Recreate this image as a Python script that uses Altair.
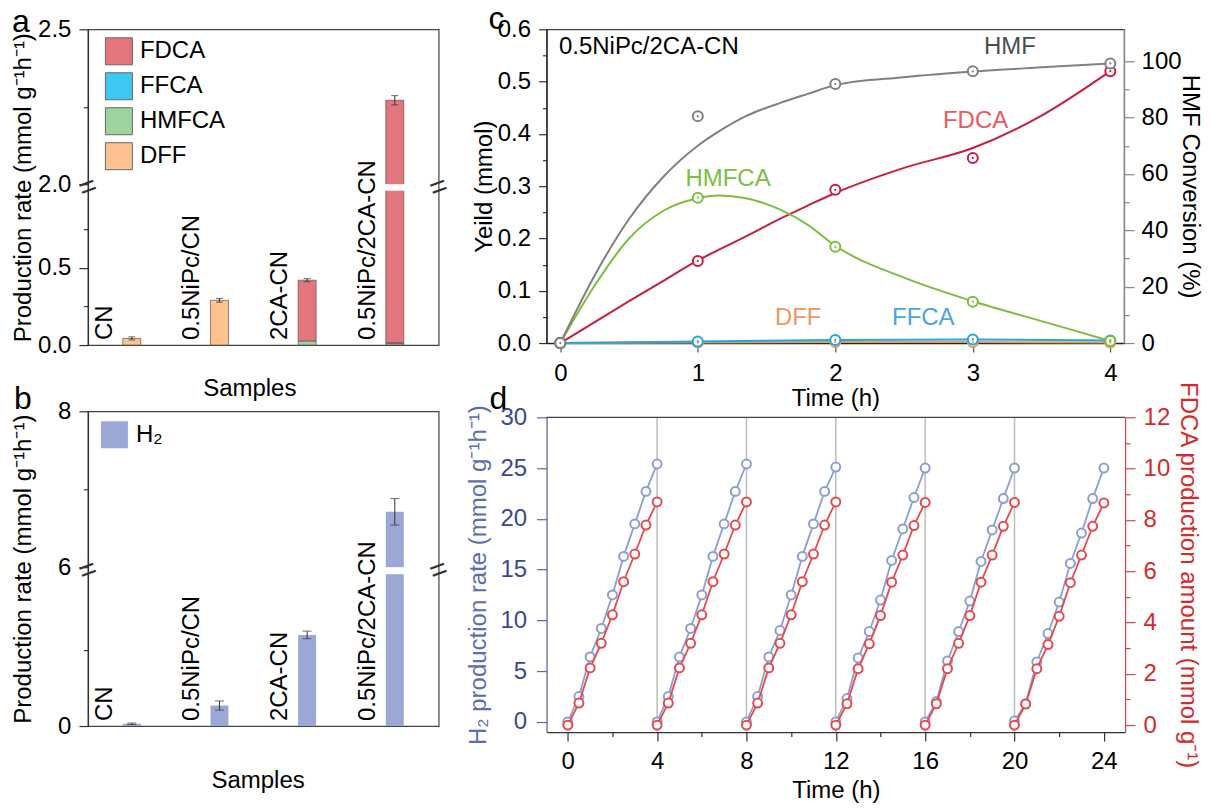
import altair as alt
import pandas as pd

FONT = "Liberation Sans, Arial, Helvetica, sans-serif"

# ---------------- panel a : liquid products ----------------
samples = ["CN", "0.5NiPc/CN", "2CA-CN", "0.5NiPc/2CA-CN"]
products = ["FDCA", "FFCA", "HMFCA", "DFF"]
product_colors = ["#e3767c", "#3dc8f4", "#9dd39d", "#fdc28f"]
fdca_rate = [0.0, 0.0, 0.395, 2.257]
ffca_rate = [0.0, 0.0, 0.0, 0.006]
hmfca_rate = [0.0, 0.0, 0.025, 0.008]
dff_rate = [0.043, 0.290, 0.0, 0.0]
rate_err = [0.010, 0.012, 0.010, 0.015]

# ---------------- panel b : H2 ----------------
h2_rate = [0.06, 0.54, 2.40, 6.71]
h2_err = [0.02, 0.12, 0.10, 0.17]

# ---------------- panel c : time course ----------------
t_points = [0, 1, 2, 3, 4]
dff_yield = [0.0, 0.001, 0.002, 0.002, 0.001]
ffca_yield = [0.0, 0.003, 0.006, 0.007, 0.005]
hmfca_yield = [0.0, 0.278, 0.184, 0.079, 0.004]
fdca_yield = [0.0, 0.157, 0.293, 0.354, 0.520]
hmf_conversion = [0.0, 80.5, 91.9, 96.4, 99.2]
curve_t = [0, 0.25, 0.5, 0.75, 1.0, 1.15, 1.35, 1.6, 1.8, 2.0, 2.5, 3.0, 3.5, 4.0]
fdca_curve = [0, 0.040, 0.080, 0.119, 0.158, 0.178, 0.204, 0.238, 0.263, 0.287, 0.335, 0.373, 0.435, 0.520]
hmfca_curve = [0, 0.110, 0.200, 0.253, 0.277, 0.282, 0.277, 0.255, 0.226, 0.186, 0.125, 0.080, 0.042, 0.004]
hmf_curve = [0, 24.0, 44.0, 59.0, 70.0, 75.0, 80.5, 85.2, 88.4, 91.5, 94.3, 96.3, 97.8, 99.2]
c_series = ["FDCA", "HMFCA", "FFCA", "DFF", "HMF"]
c_colors = ["#c81f40", "#7cbf3d", "#1fa8dd", "#f0955a", "#808080"]
c_labels = ["HMF", "FDCA", "HMFCA", "DFF", "FFCA"]
c_label_t = [3.27, 3.02, 1.22, 1.73, 2.64]
c_label_v = [0.566, 0.425, 0.314, 0.047, 0.047]
c_label_colors = ["#4d4d4d", "#e65c5f", "#7cbf3d", "#f29663", "#4aa6e0"]

# ---------------- panel d : cycling ----------------
cycle_starts = [0, 4, 8, 12, 16, 20]
cycle_t = [0, 0.5, 1.0, 1.5, 2.0, 2.5, 3.0, 3.5, 4.0]
h2_cycles = [
    [0.0, 2.5, 6.4, 9.2, 12.5, 16.3, 19.5, 22.7, 25.4],
    [0.0, 2.5, 6.4, 9.2, 12.5, 16.3, 19.5, 22.7, 25.4],
    [0.0, 2.5, 6.4, 9.0, 12.5, 16.3, 19.5, 22.7, 25.1],
    [0.0, 2.3, 6.3, 8.9, 12.0, 15.9, 19.0, 22.1, 25.0],
    [0.0, 2.0, 6.0, 8.9, 11.9, 15.8, 18.9, 22.0, 25.0],
    [0.1, 1.8, 5.9, 8.7, 11.8, 15.6, 18.6, 22.0, 25.0],
]
fdca_cycles = [
    [0.0, 0.86, 2.23, 3.19, 4.30, 5.59, 6.67, 7.80, 8.70],
    [0.0, 0.86, 2.23, 3.19, 4.30, 5.59, 6.67, 7.80, 8.70],
    [0.0, 0.86, 2.23, 3.19, 4.30, 5.59, 6.67, 7.80, 8.70],
    [0.0, 0.83, 2.20, 3.17, 4.27, 5.57, 6.63, 7.78, 8.68],
    [0.0, 0.83, 2.20, 3.19, 4.27, 5.57, 6.63, 7.75, 8.68],
    [0.0, 0.82, 2.20, 3.14, 4.24, 5.55, 6.63, 7.75, 8.66],
]
separators = [4, 8, 12, 16, 20]

H2_BLUE = "#8c9fd2"
FD_RED = "#e64a4e"


def minor_axis(values, minor_test, major=9, minor=4.5, **kw):
    return alt.Axis(
        values=values,
        labelExpr=f"({minor_test}) ? '' : datum.label",
        tickSize={"condition": {"test": minor_test, "value": minor}, "value": major},
        labelOverlap=False, labelFlush=False, labelBound=False, grid=False,
        **kw,
    )


def letter(txt, x, y):
    return alt.Chart(pd.DataFrame({"t": [txt]})).mark_text(
        align="left", baseline="alphabetic", fontSize=32, font=FONT, color="black"
    ).encode(x=alt.value(x), y=alt.value(y), text="t:N")


def break_marks(yfield, yenc, w, yval):
    df = pd.DataFrame({yfield: [yval]})
    out = []
    for xv in (0, w):
        out.append(alt.Chart(df).mark_text(text="=", angle=340, fontSize=30, align="center",
                                          baseline="middle", color="#333")
                   .encode(x=alt.value(xv), y=yenc))
    return out


# ======================= panel a =======================
WA, HA = 351, 316
rows = []
order_map = {"DFF": 0, "HMFCA": 1, "FFCA": 2, "FDCA": 3}
for i, s in enumerate(samples):
    for p, arr in zip(products, [fdca_rate, ffca_rate, hmfca_rate, dff_rate]):
        if arr[i] > 0:
            rows.append({"sample": s, "product": p, "v": arr[i], "ord": order_map[p]})
df_a = pd.DataFrame(rows)
tot_a = [fdca_rate[i] + ffca_rate[i] + hmfca_rate[i] + dff_rate[i] for i in range(4)]
df_err_a = pd.DataFrame({"sample": samples, "lo": [t - e for t, e in zip(tot_a, rate_err)],
                         "hi": [t + e for t, e in zip(tot_a, rate_err)]})
df_caps_a = pd.DataFrame({"sample": samples * 2, "v": list(df_err_a["lo"]) + list(df_err_a["hi"])})

minor_a = "datum.value==0.25||datum.value==0.75||datum.value==2.25"
axis_ya = minor_axis([0, 0.25, 0.5, 0.75, 2.0, 2.25, 2.5], minor_a, format=".1f", labelPadding=8,
                     title="Production rate (mmol g\u207b\u00b9h\u207b\u00b9)", titleX=-64,
                     titleBaseline="middle", domainColor="#333", tickColor="#333")
scale_ya = alt.Scale(domain=[0, 1, 2, 2.5], range=[HA, 161.5, 155, 0], nice=False, zero=False)
xa = alt.X("sample:N", sort=samples,
           scale=alt.Scale(domain=samples, paddingInner=0, paddingOuter=0),
           axis=alt.Axis(labels=False, ticks=False, domain=False, title="Samples",
                         titlePadding=31, titleX=161.5))


def ya(field):
    return alt.Y(field, scale=scale_ya, axis=axis_ya)


bars_a = alt.Chart(df_a).mark_bar(size=18, stroke="#6a5050", strokeWidth=0.7).encode(
    x=xa, y=alt.Y("v:Q", stack="zero", scale=scale_ya, axis=axis_ya),
    color=alt.Color("product:N", scale=alt.Scale(domain=products, range=product_colors),
                    legend=alt.Legend(orient="none", legendX=17, legendY=8, title=None,
                                      symbolType="square", symbolSize=729,
                                      symbolStrokeColor="#666", symbolStrokeWidth=1,
                                      labelFontSize=24, labelFont=FONT, labelColor="black",
                                      rowPadding=3, labelOffset=7, padding=0)),
    order=alt.Order("ord:Q"),
)
err_a = alt.Chart(df_err_a).mark_rule(color="#333", strokeWidth=1).encode(x=xa, y=ya("lo:Q"), y2="hi:Q")
caps_a = alt.Chart(df_caps_a).mark_tick(color="#333", size=7, thickness=1).encode(x=xa, y=ya("v:Q"))
gap_a = alt.Chart(pd.DataFrame({"sample": [samples[3]], "lo": [1.0], "hi": [2.0]})).mark_bar(
    size=22, color="white").encode(x=xa, y=ya("lo:Q"), y2="hi:Q")
lab_a = alt.Chart(pd.DataFrame({"sample": samples, "z": [0.0] * 4})).mark_text(
    angle=270, align="left", baseline="middle", dx=5, dy=-27, fontSize=24, font=FONT, color="black"
).encode(x=xa, y=ya("z:Q"), text="sample:N")
chart_a = alt.layer(bars_a, err_a, caps_a, gap_a, lab_a,
                    *break_marks("y", ya("y:Q"), WA, 1.5),
                    letter("a", -76, 3)).properties(width=WA, height=HA)

# ======================= panel b =======================
WB, HB = 351, 315
df_b = pd.DataFrame({"sample": samples, "v": h2_rate, "series": ["H\u2082"] * 4})
df_err_b = pd.DataFrame({"sample": samples, "lo": [v - e for v, e in zip(h2_rate, h2_err)],
                         "hi": [v + e for v, e in zip(h2_rate, h2_err)]})
df_caps_b = pd.DataFrame({"sample": samples * 2, "v": list(df_err_b["lo"]) + list(df_err_b["hi"])})
minor_b = "datum.value==2||datum.value==7"
axis_yb = minor_axis([0, 2, 6, 7, 8], minor_b, labelPadding=8,
                     title="Production rate (mmol g\u207b\u00b9h\u207b\u00b9)", titleX=-64,
                     titleBaseline="middle", domainColor="#333", tickColor="#333")
scale_yb = alt.Scale(domain=[0, 4, 6, 8], range=[HB, 163, 156, 0], nice=False, zero=False)
xb = alt.X("sample:N", sort=samples,
           scale=alt.Scale(domain=samples, paddingInner=0, paddingOuter=0),
           axis=alt.Axis(labels=False, ticks=False, domain=False, title="Samples",
                         titlePadding=43, titleX=169.8))


def yb(field):
    return alt.Y(field, scale=scale_yb, axis=axis_yb)


bars_b = alt.Chart(df_b).mark_bar(size=18).encode(
    x=xb, y=yb("v:Q"),
    color=alt.Color("series:N", scale=alt.Scale(range=["#9ba8d6"]),
                    legend=alt.Legend(orient="none", legendX=13, legendY=10, title=None,
                                      symbolType="square", symbolSize=729, symbolStrokeWidth=0,
                                      labelFontSize=24, labelFont=FONT, labelColor="black",
                                      labelOffset=8, padding=0)),
)
err_b = alt.Chart(df_err_b).mark_rule(color="#333", strokeWidth=1).encode(x=xb, y=yb("lo:Q"), y2="hi:Q")
caps_b = alt.Chart(df_caps_b).mark_tick(color="#333", size=9, thickness=1).encode(x=xb, y=yb("v:Q"))
gap_b = alt.Chart(pd.DataFrame({"sample": [samples[3]], "lo": [4.0], "hi": [6.0]})).mark_bar(
    size=22, color="white").encode(x=xb, y=yb("lo:Q"), y2="hi:Q")
lab_b = alt.Chart(pd.DataFrame({"sample": samples, "z": [0.0] * 4})).mark_text(
    angle=270, align="left", baseline="middle", dx=5, dy=-27, fontSize=24, font=FONT, color="black"
).encode(x=xb, y=yb("z:Q"), text="sample:N")
chart_b = alt.layer(bars_b, err_b, caps_b, gap_b, lab_b,
                    *break_marks("y", yb("y:Q"), WB, 5.0),
                    letter("b", -74, -2)).properties(width=WB, height=HB)

# ======================= panel c =======================
WC, HC = 578, 314
pts_rows, curve_rows = [], []
for name, arr in zip(["DFF", "FFCA", "HMFCA", "FDCA"], [dff_yield, ffca_yield, hmfca_yield, fdca_yield]):
    for t, v in zip(t_points, arr):
        pts_rows.append({"t": t, "v": v, "series": name})
df_c_pts = pd.DataFrame(pts_rows)
for name, arr in zip(["FDCA", "HMFCA"], [fdca_curve, hmfca_curve]):
    for t, v in zip(curve_t, arr):
        curve_rows.append({"t": t, "v": v, "series": name})
df_c_curve = pd.DataFrame(curve_rows)
df_hmf_pts = pd.DataFrame({"t": t_points, "v": hmf_conversion, "series": ["HMF"] * 5})
df_hmf_curve = pd.DataFrame({"t": curve_t, "v": hmf_curve, "series": ["HMF"] * len(curve_t)})

axis_xc = minor_axis([0, 0.5, 1, 1.5, 2, 2.5, 3, 3.5, 4], "datum.value % 1 != 0", labelPadding=9,
                     format="d", title="Time (h)", titlePadding=1, domainColor="#222", tickColor="#555")
axis_ycl = minor_axis([0, 0.05, 0.1, 0.15, 0.2, 0.25, 0.3, 0.35, 0.4, 0.45, 0.5, 0.55, 0.6],
                      "round(datum.value*100) % 10 != 0", major=8, minor=4, format=".1f",
                      labelPadding=8, title="Yeild (mmol)", titleX=-62, titleBaseline="middle",
                      domainColor="#222", tickColor="#333")
axis_ycr = minor_axis([0, 10, 20, 30, 40, 50, 60, 70, 80, 90, 100], "datum.value % 20 != 0",
                      major=10, minor=5, orient="right", labelPadding=7,
                      title="HMF Conversion (%)", titleAngle=90, titleX=65, titleBaseline="middle",
                      domainColor="#888", tickColor="#888")
xc = alt.X("t:Q", scale=alt.Scale(domain=[-0.1, 4.1], nice=False, zero=False), axis=axis_xc)
ycl = alt.Y("v:Q", scale=alt.Scale(domain=[0, 0.6], nice=False, zero=False), axis=axis_ycl)
ycr = alt.Y("v:Q", scale=alt.Scale(domain=[0, 111.3], nice=False, zero=False), axis=axis_ycr)
col_c = alt.Color("series:N", scale=alt.Scale(domain=c_series, range=c_colors), legend=None)
str_c = alt.Stroke("series:N", scale=alt.Scale(domain=c_series, range=c_colors), legend=None)

lines_c = alt.Chart(df_c_pts).transform_filter("datum.series=='DFF'||datum.series=='FFCA'").mark_line(
    strokeWidth=2).encode(x=xc, y=ycl, color=col_c, detail="series:N")
curves_c = alt.Chart(df_c_curve).mark_line(strokeWidth=2, interpolate="monotone").encode(
    x=xc, y=ycl, color=col_c, detail="series:N")
rings_c = alt.Chart(df_c_pts).mark_point(shape="circle", filled=True, fill="white", size=100,
                                         strokeWidth=2, opacity=1).encode(x=xc, y=ycl, stroke=str_c)
dots_c = alt.Chart(df_c_pts).mark_point(shape="circle", filled=True, size=5, opacity=1).encode(
    x=xc, y=ycl, color=col_c)
label_layers = []
for txt, tt, vv, cc in zip(c_labels, c_label_t, c_label_v, c_label_colors):
    label_layers.append(alt.Chart(pd.DataFrame({"t": [tt], "v": [vv], "label": [txt]})).mark_text(
        fontSize=24, font=FONT, color=cc, align="center", baseline="middle").encode(
        x=xc, y=ycl, text="label:N"))
title_c = alt.Chart(pd.DataFrame({"t": [-0.01], "v": [0.566], "label": ["0.5NiPc/2CA-CN"]})).mark_text(
    fontSize=24, font=FONT, color="black", align="left", baseline="middle").encode(
    x=xc, y=ycl, text="label:N")
left_c = alt.layer(lines_c, curves_c, rings_c, dots_c, *label_layers, title_c, letter("c", -58, 0))

hmf_line = alt.Chart(df_hmf_curve).mark_line(strokeWidth=2, interpolate="monotone").encode(
    x=xc, y=ycr, color=col_c)
hmf_rings = alt.Chart(df_hmf_pts).mark_point(shape="circle", filled=True, fill="white", size=100,
                                             strokeWidth=2, opacity=1).encode(x=xc, y=ycr, stroke=str_c)
hmf_dots = alt.Chart(df_hmf_pts).mark_point(shape="circle", filled=True, size=5, opacity=1).encode(
    x=xc, y=ycr, color=col_c)
right_c = alt.layer(hmf_line, hmf_rings, hmf_dots)
chart_c = alt.layer(left_c, right_c).resolve_scale(y="independent").properties(width=WC, height=HC)

# ======================= panel d =======================
WD, HD, TOPD = 579, 321, 6
d_rows = []
for k, start in enumerate(cycle_starts):
    for j, tt in enumerate(cycle_t):
        d_rows.append({"t": start + tt, "cycle": k, "h2": h2_cycles[k][j], "fdca": fdca_cycles[k][j]})
df_d = pd.DataFrame(d_rows)
df_sep = pd.DataFrame({"t": separators})

axis_xd = minor_axis(list(range(0, 25, 2)), "datum.value % 4 != 0", labelPadding=9,
                     title="Time (h)", titlePadding=5, domainColor="#333", tickColor="#333")
axis_ydl = minor_axis([0, 2.5, 5, 7.5, 10, 12.5, 15, 17.5, 20, 22.5, 25, 27.5, 30],
                      "datum.value % 5 != 0", major=10, minor=5, labelPadding=10,
                      labelColor="#3a4896", tickColor="#5d6aa5", domainColor="#5d6aa5",
                      title="H\u2082 production rate (mmol g\u207b\u00b9h\u207b\u00b9)",
                      titleColor="#5b6db5", titleX=-68, titleBaseline="middle")
axis_ydr = minor_axis(list(range(0, 13)), "datum.value % 2 != 0", major=10, minor=5,
                      orient="right", labelPadding=8, labelColor="#d22b2b", tickColor="#d04a4f",
                      domainColor="#d04a4f", title="FDCA production amount (mmol g\u207b\u00b9)",
                      titleColor="#d42a2a", titleAngle=90, titleX=62, titleBaseline="middle")
xd = alt.X("t:Q", scale=alt.Scale(domain=[-0.95, 24.95], nice=False, zero=False), axis=axis_xd)
ydl = alt.Y("h2:Q", scale=alt.Scale(domain=[-1, 30], range=[HD, TOPD], nice=False, zero=False),
            axis=axis_ydl)
ydr = alt.Y("fdca:Q", scale=alt.Scale(domain=[-0.27, 12], range=[HD, TOPD], nice=False, zero=False),
            axis=axis_ydr)

sep_d = alt.Chart(df_sep).mark_rule(color="#bdbdbd", strokeWidth=1.5).encode(
    x=xd, y=alt.datum(-1), y2=alt.datum(30))
top_d = alt.Chart(pd.DataFrame({"h2": [30]})).mark_rule(color="#444", strokeWidth=1.2).encode(
    y=ydl, x=alt.value(0), x2=alt.value(WD))
h2_lines = alt.Chart(df_d).mark_line(color=H2_BLUE, strokeWidth=1.8).encode(x=xd, y=ydl, detail="cycle:N")
h2_pts = alt.Chart(df_d).mark_point(shape="circle", filled=True, fill="white", stroke=H2_BLUE,
                                    size=80, strokeWidth=2, opacity=1).encode(x=xd, y=ydl)
left_d = alt.layer(sep_d, top_d, h2_lines, h2_pts, letter("d", -57, -2))
fd_lines = alt.Chart(df_d).mark_line(color=FD_RED, strokeWidth=1.8).encode(x=xd, y=ydr, detail="cycle:N")
fd_pts = alt.Chart(df_d).mark_point(shape="circle", filled=True, fill="white", stroke=FD_RED,
                                    size=80, strokeWidth=2, opacity=1).encode(x=xd, y=ydr)
right_d = alt.layer(fd_lines, fd_pts)
chart_d = alt.layer(left_d, right_d).resolve_scale(y="independent").properties(
    width=WD, height=HD, view=alt.ViewBackground(stroke="transparent"))

# ======================= layout =======================
chart = alt.concat(chart_a, chart_c, chart_b, chart_d, columns=2,
                   spacing={"row": 66.3, "column": 108}, bounds="flush").resolve_scale(
    color="independent", stroke="independent"
).properties(
    padding={"left": 3, "top": -6, "right": 0, "bottom": 0}
).configure(font=FONT).configure_axis(
    labelFont=FONT, titleFont=FONT, labelFontSize=24, titleFontSize=24,
    labelColor="black", titleColor="black", titleFontWeight="normal", grid=False,
    domainWidth=1.3, tickWidth=1.2,
).configure_view(stroke="#444", strokeWidth=1.2)

chart.save("out.html", embed_options={"renderer": "svg", "actions": False})
